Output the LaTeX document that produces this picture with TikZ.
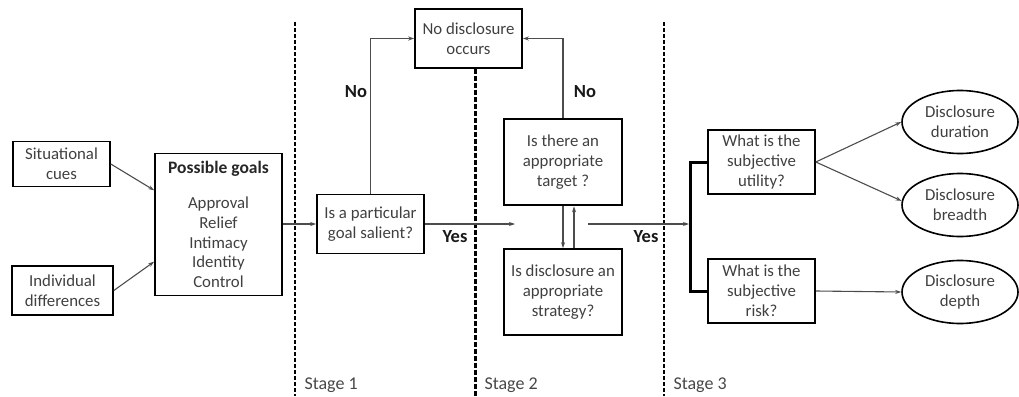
\documentclass[tikz,border=0pt]{standalone}
\usepackage{fontspec}
\setmainfont{Carlito}
\usetikzlibrary{arrows.meta,shapes.geometric}
\begin{document}
\begin{tikzpicture}[x=1pt,y=-1pt,
  every node/.style={font=\fontsize{16.8}{19.9}\selectfont, text=black!75},
  box/.style={draw=black, line width=1.6pt, align=center, inner sep=2pt},
  thickbox/.style={box, line width=2.6pt},
  oval/.style={draw=black, line width=1.6pt, ellipse, align=center, inner sep=0pt, minimum width=116pt, minimum height=63pt},
  conn/.style={draw=black!70, line width=1.1pt},
  arr/.style={conn, -{Stealth[length=6pt,width=4pt]}},
  stageline/.style={draw=black, line width=1.8pt, dash pattern=on 4pt off 2pt},
  midline/.style={draw=black, line width=3pt, dash pattern=on 5pt off 2pt},
  lab/.style={font=\fontsize{18.5}{20}\selectfont\bfseries, text=black!90},
  stagelab/.style={font=\fontsize{18}{20}\selectfont, text=black!72, anchor=west}
]
\useasboundingbox (0,0) rectangle (1019,396);

% stage dividers
\coordinate (d1t) at (295,22);  \coordinate (d1b) at (295,396);
\coordinate (d2b) at (475,396);
\coordinate (d3t) at (664,22);  \coordinate (d3b) at (664,396);

% boxes
\node[box, minimum width=97pt, minimum height=45pt] (sit) at (61.5,164) {Situational\\cues};
\node[box, minimum width=101pt, minimum height=49pt] (ind) at (62.5,290.5) {Individual\\differences};
\node[box, minimum width=127pt, minimum height=142pt] (goals) at (218.5,224.5)
  {{\fontsize{17.5}{20}\selectfont\bfseries\color{black!85}Possible goals}\\[15pt]Approval\\Relief\\Intimacy\\Identity\\Control};
\node[box, minimum width=107pt, minimum height=59pt] (nodisc) at (468.5,38.5) {No disclosure\\occurs};
\node[box, minimum width=107pt, minimum height=59pt] (sal) at (370.5,224) {Is a particular\\goal salient?};
\node[thickbox, minimum width=118pt, minimum height=86pt] (target) at (563,162) {Is there an\\appropriate\\target ?};
\node[box, minimum width=118pt, minimum height=86pt] (strat) at (563,292) {Is disclosure an\\appropriate\\strategy?};
\node[box, minimum width=107pt, minimum height=64pt] (util) at (761.5,162) {What is the\\subjective\\utility?};
\node[box, minimum width=107pt, minimum height=64pt] (risk) at (761.5,291) {What is the\\subjective\\risk?};
\node[oval] (dur) at (960,122) {Disclosure\\duration};
\node[oval] (bre) at (960,205) {Disclosure\\breadth};
\node[oval] (dep) at (960,292) {Disclosure\\depth};

% dividers
\draw[stageline] (d1t) -- (d1b);
\draw[midline] (nodisc.south -| d2b) -- (d2b);
\draw[stageline] (d3t) -- (d3b);

% connectors
\draw[arr] (sit.east) -- (goals.152);
\draw[arr] (ind.east) -- (goals.210);
\draw[arr] (goals.east |- sal.west) -- (sal.west);
\draw[arr] (sal.north) |- (nodisc.west);
\draw[arr] (target.north) |- (nodisc.east);
\coordinate (gapin) at (515,224);
\coordinate (gapout) at (588,224);
\coordinate (br) at (690,224);
\draw[arr] (sal.east) -- (gapin);
\draw[arr] (target.south) -- (strat.north);
\draw[arr] ([xshift=11pt]strat.north) -- ([xshift=11pt]target.south);
\draw[arr] (gapout) -- ([xshift=-1pt]br);
\draw[draw=black, line width=3pt] (util.west) -| (br) |- (risk.west);
\draw[arr] (util.east) -- (dur.west);
\draw[arr] (util.east) -- (bre.176);
\draw[arr] (risk.east) -- (dep.west);

% labels
\node[lab] (no1) at (356,92) {No};
\node[lab] (no2) at (585,92) {No};
\node[lab] (yes1) at (455,237) {Yes};
\node[lab] (yes2) at (646,237) {Yes};
\node[stagelab] (s1) at (301,385) {Stage 1};
\node[stagelab] (s2) at (481,385) {Stage 2};
\node[stagelab] (s3) at (670,385) {Stage 3};
\end{tikzpicture}
\end{document}
